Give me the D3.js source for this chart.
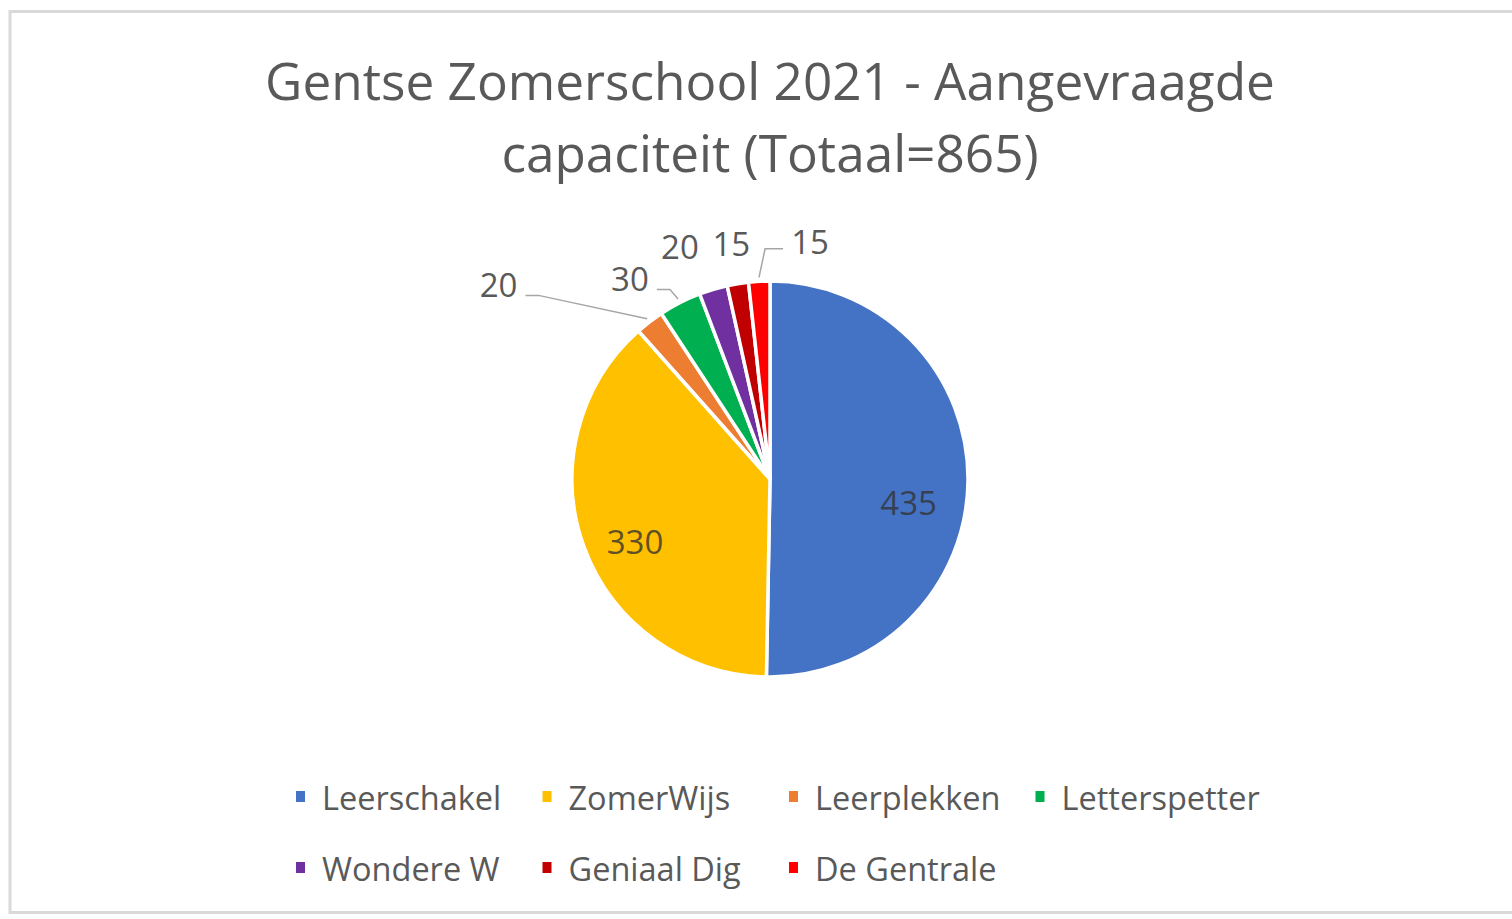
<!DOCTYPE html>
<html>
<head>
<meta charset="utf-8">
<script src="https://cdn.jsdelivr.net/npm/d3@7"></script>
<style>
    body { margin: 0; background: #ffffff; }
    svg { display: block; }
</style>
</head>
<body>
<div id="wrapper"></div>
<script>
// data
const categories = ["Leerschakel", "ZomerWijs", "Leerplekken", "Letterspetter", "Wondere W", "Geniaal Dig", "De Gentrale"];
const values = [435, 330, 20, 30, 20, 15, 15];
const colors = ["#4472C4", "#FFC000", "#ED7D31", "#00B050", "#7030A0", "#C00000", "#FF0000"];
const titleLines = ["Gentse Zomerschool 2021 - Aangevraagde", "capaciteit (Totaal=865)"];

function build() {
    var dimension = {
        width: 1512,
        height: 919,
        cx: 770,
        cy: 479,
        radius: 198
    };

    const font = "'Open Sans', 'DejaVu Sans', sans-serif";
    const grey = "#595959";

    const wrapper = d3.select("#wrapper")
        .append("svg")
        .attr("width", dimension.width)
        .attr("height", dimension.height);

    // chart frame
    wrapper.append("rect")
        .attr("x", 10)
        .attr("y", 11.5)
        .attr("width", 1520)
        .attr("height", 901)
        .attr("fill", "none")
        .attr("stroke", "#d9d9d9")
        .attr("stroke-width", 3);

    // title, scaled to the width it has in the picture
    const title = wrapper.append("g")
        .attr("font-family", font)
        .attr("fill", grey)
        .attr("text-anchor", "middle");
    const t1 = title.append("text")
        .attr("x", dimension.cx)
        .attr("y", 100)
        .attr("font-size", 48)
        .text(titleLines[0]);
    const fs = 48 * 1010 / t1.node().getComputedTextLength();
    t1.attr("font-size", fs);
    title.append("text")
        .attr("x", dimension.cx)
        .attr("y", 172)
        .attr("font-size", fs)
        .text(titleLines[1]);

    const pie = d3.pie().sort(null).value(d => d)(values);
    const arc = d3.arc().innerRadius(0).outerRadius(dimension.radius);

    const bounds = wrapper.append("g")
        .attr("transform", `translate(${dimension.cx},${dimension.cy})`);

    bounds.selectAll("path")
        .data(pie)
        .enter()
        .append("path")
        .attr("d", arc)
        .attr("fill", (d, i) => colors[i])
        .attr("stroke", "#ffffff")
        .attr("stroke-width", 3.5)
        .attr("stroke-linejoin", "round");

    // label placement: radius factor along mid-angle + nudge, as Excel "best fit" did
    const labelLayout = [
        { k: 0.7, dx: 0, dy: 22, inside: true },
        { k: 0.7, dx: -5, dy: 14, inside: true },
        { k: 1.2, dx: -127, dy: -6, leader: true },
        { k: 1.2, dx: -32, dy: 11, leader: true },
        { k: 1.2, dx: -22, dy: -5 },
        { k: 1.2, dx: 0, dy: -1 },
        { k: 1.2, dx: 53, dy: 0, leader: true }
    ];

    const polar = (a, r) => [r * Math.sin(a), -r * Math.cos(a)];

    const labels = pie.map((d, i) => {
        const mid = (d.startAngle + d.endAngle) / 2;
        const L = labelLayout[i];
        const p = polar(mid, dimension.radius * L.k);
        return { d, i, mid, L, x: p[0] + L.dx, y: p[1] + L.dy };
    });

    // leader lines
    labels.filter(l => l.L.leader).forEach(l => {
        const edge = polar(l.mid, dimension.radius + 4);
        const left = l.x < edge[0];
        const half = String(l.d.data).length * 10.5;
        const sx = left ? l.x + half + 6 : l.x - half - 6;
        const sy = l.y + (left ? 11 : 7);
        const bx = sx + (left ? 13 : -18);
        bounds.append("polyline")
            .attr("points", [[sx, sy], [bx, sy], edge].map(p => p.join(",")).join(" "))
            .attr("fill", "none")
            .attr("stroke", "#a6a6a6")
            .attr("stroke-width", 1.5);
    });

    bounds.selectAll("text.lbl")
        .data(labels)
        .enter()
        .append("text")
        .attr("class", "lbl")
        .attr("x", l => l.x)
        .attr("y", l => l.y)
        .attr("text-anchor", "middle")
        .attr("dominant-baseline", "central")
        .attr("font-family", font)
        .attr("font-size", 33)
        .attr("fill", l => l.L.inside ? "#333333" : grey)
        .attr("fill-opacity", l => l.L.inside ? 0.8 : 1)
        .text(l => l.d.data);

    // legend
    const legend = wrapper.append("g")
        .attr("font-family", font)
        .attr("font-size", 32.5)
        .attr("fill", grey);
    const item = legend.selectAll("g")
        .data(categories)
        .enter()
        .append("g")
        .attr("transform", (d, i) => `translate(${300 + (i % 4) * 246.5},${797 + Math.floor(i / 4) * 71})`);
    item.append("rect")
        .attr("x", -4)
        .attr("y", -6)
        .attr("width", 9)
        .attr("height", 11)
        .attr("fill", (d, i) => colors[i]);
    item.append("text")
        .attr("x", 22)
        .attr("dominant-baseline", "central")
        .text(d => d);
}
build();
</script>
</body>
</html>
